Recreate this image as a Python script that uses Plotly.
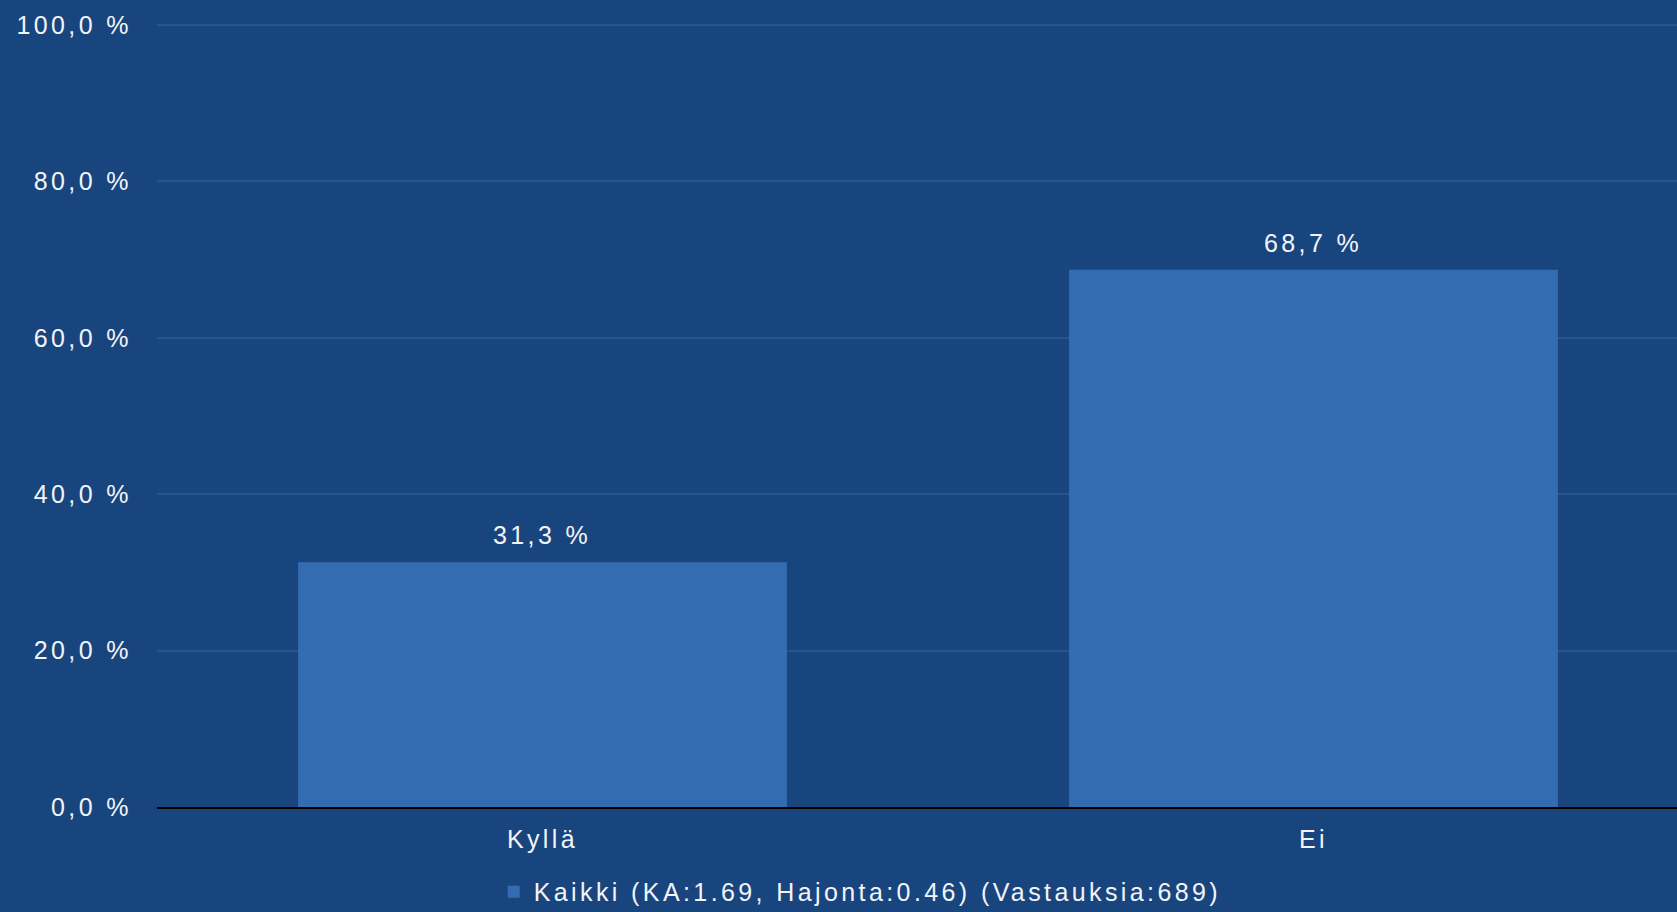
import plotly.graph_objects as go

categories = ["Kyllä", "Ei"]
values = [31.3, 68.7]
series_name = "Kaikki (KA:1.69, Hajonta:0.46) (Vastauksia:689)"
y_tick_vals = [0, 20, 40, 60, 80, 100]
y_tick_labels = ["0,0 %", "20,0 %", "40,0 %", "60,0 %", "80,0 %", "100,0 %"]

BG = "#19457E"
GRID = "#25548E"
BAR = "#346CB2"
TXT = "#F2F4F8"
FONT = "Liberation Sans, Arial, sans-serif"
LS = "letter-spacing:3.4px"


def sp(t):
    return f'<span style="{LS}">{t}</span>'


fig = go.Figure()
fig.add_trace(go.Bar(
    x=categories,
    y=values,
    name=sp(series_name),
    marker=dict(color=BAR, line=dict(width=0)),
    width=0.634,
    showlegend=True,
))

for c, v in zip(categories, values):
    fig.add_annotation(
        x=c, y=v, xref="x", yref="y",
        text=sp(f"{v:.1f} %".replace(".", ",")),
        showarrow=False, yanchor="middle", yshift=27,
        font=dict(family=FONT, size=25, color=TXT),
    )

fig.update_layout(
    width=1677, height=912,
    paper_bgcolor=BG, plot_bgcolor=BG,
    margin=dict(l=157, r=0, t=21, b=105, autoexpand=False),
    font=dict(family=FONT, size=25, color=TXT),
    showlegend=True,
    legend=dict(
        orientation="h", x=0.2215, xanchor="left", y=-0.108, yanchor="middle",
        font=dict(family=FONT, size=25, color=TXT),
        bgcolor="rgba(0,0,0,0)", itemwidth=30,
    ),
    xaxis=dict(
        type="category", range=[-0.5, 1.4715],
        tickvals=categories, ticktext=[sp(c) for c in categories],
        showgrid=False, showline=True, linecolor="black", linewidth=2,
        ticks="", ticklabelstandoff=9,
        tickfont=dict(family=FONT, size=25, color=TXT),
        fixedrange=True,
    ),
    yaxis=dict(
        range=[0, 100.5],
        tickvals=y_tick_vals, ticktext=[sp(t) for t in y_tick_labels],
        showgrid=True, gridcolor=GRID, gridwidth=2,
        zeroline=False, showline=False, ticks="",
        ticklabelstandoff=24,
        tickfont=dict(family=FONT, size=25, color=TXT),
        fixedrange=True,
    ),
    bargap=0.366,
)

fig.write_html("out.html", config={"displayModeBar": False},
               post_script="document.body.style.margin='0';")
